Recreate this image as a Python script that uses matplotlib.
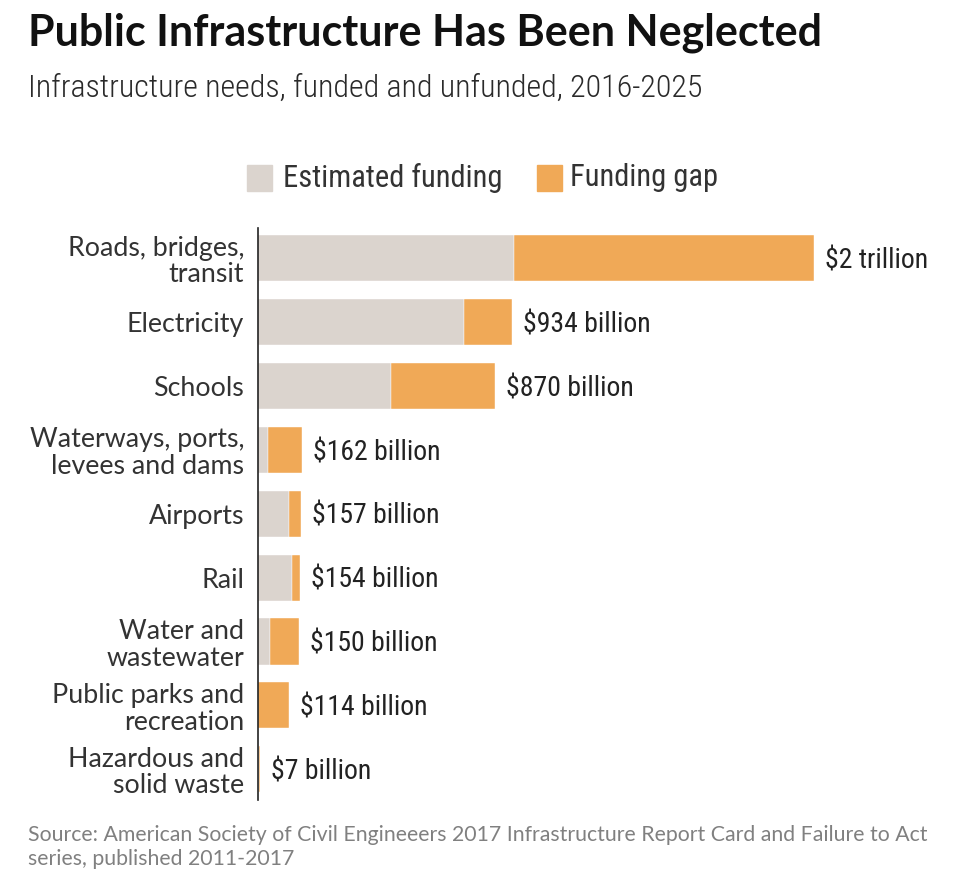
import matplotlib.pyplot as plt
from matplotlib.patches import Rectangle

categories = [
    "Roads, bridges,\ntransit",
    "Electricity",
    "Schools",
    "Waterways, ports,\nlevees and dams",
    "Airports",
    "Rail",
    "Water and\nwastewater",
    "Public parks and\nrecreation",
    "Hazardous and\nsolid waste",
]
funded = [941, 757, 490, 37, 115, 125, 45, 0, 4]
gap = [1101, 177, 380, 125, 42, 29, 105, 114, 3]
value_labels = [
    "$2 trillion", "$934 billion", "$870 billion", "$162 billion",
    "$157 billion", "$154 billion", "$150 billion", "$114 billion", "$7 billion",
]

GRAY = "#dbd4ce"
ORANGE = "#f0a957"
NARROW = ["Roboto Condensed", "Archivo Narrow", "Liberation Sans", "DejaVu Sans"]
SANS = ["Lato", "DejaVu Sans"]

fig = plt.figure(figsize=(9.6, 8.89), dpi=100)
W, H = 960, 889

ax = fig.add_axes([258 / W, 1 - 800 / H, 682 / W, 572 / H])
y = list(range(len(categories)))
ax.barh(y, funded, height=0.72, color=GRAY, edgecolor="white", linewidth=0.3)
ax.barh(y, gap, left=funded, height=0.72, color=ORANGE, edgecolor="white", linewidth=0.3)

for i, (f, g, lab) in enumerate(zip(funded, gap, value_labels)):
    ax.annotate(lab, (f + g, i), xytext=(8, -2), textcoords="offset points",
                va="center", ha="left", fontsize=20, color="#222222", family=NARROW)

ax.set_xlim(0, 2507)
ax.set_ylim(8.48, -0.47)
ax.set_yticks(y)
ax.set_yticklabels(categories, fontsize=19.3, color="#333333", family=SANS,
                   linespacing=1.08)
ax.tick_params(axis="y", length=0, pad=10)
ax.set_xticks([])
for side in ["top", "right", "bottom"]:
    ax.spines[side].set_visible(False)
ax.spines["left"].set_color("#222222")
ax.spines["left"].set_linewidth(1.2)

fig.text(28 / W, 1 - 33 / H, "Public Infrastructure Has Been Neglected",
         fontsize=31, fontweight="bold", family=SANS, color="#111111", va="center")
fig.text(28 / W, 1 - 88 / H, "Infrastructure needs, funded and unfunded, 2016-2025",
         fontsize=23, fontweight="light", family=NARROW, color="#2a2a2a", va="center")

# legend
fig.patches.append(Rectangle((247 / W, 1 - 191 / H), 25 / W, 26 / H,
                             transform=fig.transFigure, color=GRAY))
fig.text(283 / W, 1 - 178 / H, "Estimated funding", fontsize=22, family=NARROW,
         color="#333333", va="center")
fig.patches.append(Rectangle((537 / W, 1 - 191 / H), 25 / W, 26 / H,
                             transform=fig.transFigure, color=ORANGE))
fig.text(570 / W, 1 - 178 / H, "Funding gap", fontsize=22, family=NARROW,
         color="#333333", va="center")

fig.text(28 / W, 1 - 847 / H,
         "Source: American Society of Civil Engineeers 2017 Infrastructure Report Card and Failure to Act\nseries, published 2011-2017",
         fontsize=15.3, family=SANS, color="#808080", va="center", linespacing=1.2)

fig.savefig("out.png", dpi=100)
